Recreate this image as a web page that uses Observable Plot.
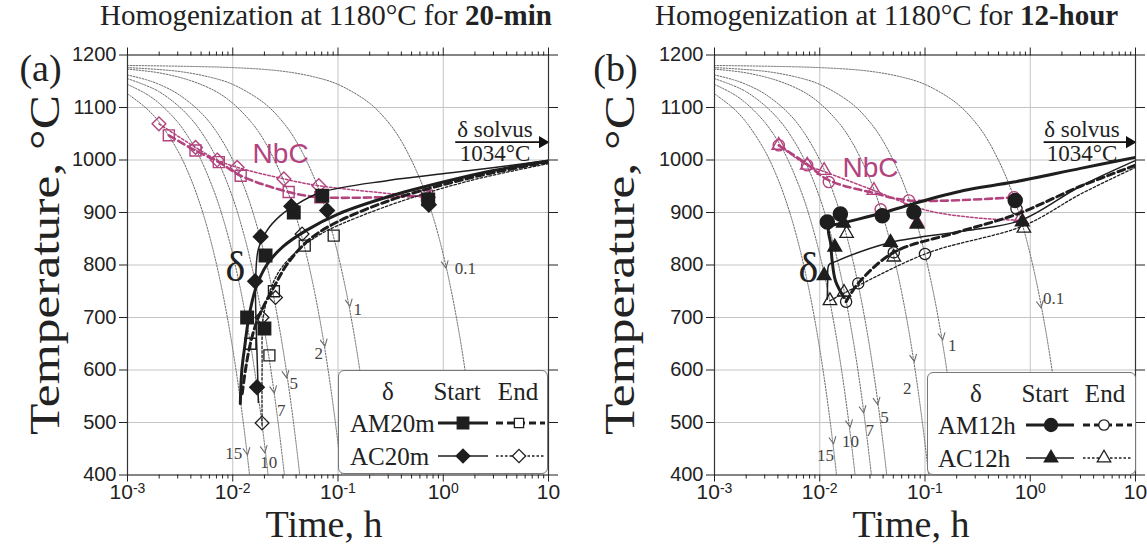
<!DOCTYPE html>
<html><head><meta charset="utf-8">
<script src="https://cdn.jsdelivr.net/npm/d3@7"></script>
<script src="https://cdn.jsdelivr.net/npm/@observablehq/plot@0.6"></script>
<style>
body{margin:0;background:#fff;}
#root{position:relative;width:1147px;height:545px;overflow:hidden;background:#fff;}
.title{position:absolute;top:-2px;font-family:"Liberation Serif","Times New Roman",serif;font-size:29px;line-height:34px;white-space:nowrap;color:#222;}
.panel{position:absolute;top:36px;}
.legend{position:absolute;background:#fff;border:1px solid #777;border-radius:6px;font-family:"Liberation Serif","Times New Roman",serif;font-size:25px;color:#222;}
.legend span{position:absolute;white-space:nowrap;line-height:1;}
.legend svg{position:absolute;left:0;top:0;}
</style></head><body><div id="root"></div><script>
// ---------- axes ----------
const majorX = [0.001, 0.01, 0.1, 1, 10];
const minorX = [0.002,0.003,0.004,0.005,0.006,0.007,0.008,0.009,
                0.02,0.03,0.04,0.05,0.06,0.07,0.08,0.09,
                0.2,0.3,0.4,0.5,0.6,0.7,0.8,0.9,
                2,3,4,5,6,7,8,9];
const yTicks = [400,500,600,700,800,900,1000,1100,1200];
const gridT = [500,600,700,800,900,1000,1100];

// ---------- cooling curves (t in h, T in °C) ----------
const coolRates = ["15","10","7","5","2","1","0.1"];
const cool15 = [[0.001,1126],[0.0015,1099],[0.002,1072],[0.003,1018],[0.004,964],[0.005,910],[0.006,856],[0.007,802],[0.008,748],[0.009,694],[0.010,640],[0.011,586],[0.012,532],[0.013,478],[0.014,424],[0.0147,386]];
const cool10 = [[0.001,1144],[0.0015,1126],[0.002,1108],[0.003,1072],[0.004,1036],[0.005,1000],[0.007,928],[0.009,856],[0.011,784],[0.013,712],[0.015,640],[0.017,568],[0.019,496],[0.021,424],[0.022,388]];
const cool7 = [[0.001,1155],[0.0015,1142],[0.002,1130],[0.003,1104],[0.004,1079],[0.005,1054],[0.007,1004],[0.010,928],[0.013,852],[0.016,777],[0.019,701],[0.022,626],[0.025,550],[0.028,474],[0.031,399],[0.032,374]];
const cool5 = [[0.001,1162],[0.0015,1153],[0.002,1144],[0.003,1126],[0.005,1090],[0.007,1054],[0.010,1000],[0.013,946],[0.016,892],[0.020,820],[0.024,748],[0.028,676],[0.032,604],[0.036,532],[0.040,460],[0.044,388]];
const cool2 = [[0.001,1173],[0.002,1166],[0.004,1151],[0.007,1130],[0.010,1108],[0.015,1072],[0.020,1036],[0.030,964],[0.040,892],[0.050,820],[0.060,748],[0.070,676],[0.080,604],[0.090,532],[0.100,460],[0.110,388]];
const cool1 = [[0.001,1176],[0.003,1169],[0.006,1158],[0.010,1144],[0.020,1108],[0.030,1072],[0.040,1036],[0.060,964],[0.080,892],[0.100,820],[0.120,748],[0.140,676],[0.160,604],[0.180,532],[0.200,460],[0.220,388]];
const cool01 = [[0.001,1180],[0.010,1176],[0.030,1169],[0.060,1158],[0.100,1144],[0.200,1108],[0.300,1072],[0.400,1036],[0.600,964],[0.800,892],[1.000,820],[1.200,748],[1.400,676],[1.600,604],[1.800,532],[2.000,460],[2.200,388]];
const coolCurves = [cool15, cool10, cool7, cool5, cool2, cool1, cool01];

// arrow heads on the cooling curves [rate, t, T]
const arrowsA = [["0.1",1.05,799],["1",0.1286,726],["2",0.0744,650],["5",0.0322,590],["7",0.0246,561],["10",0.0200,447],["15",0.0137,443]];
const arrowsB = [["0.1",1.256,723],["1",0.146,662],["2",0.0784,621],["5",0.0352,539],["7",0.0259,523],["10",0.0193,496],["15",0.0134,464]];
// rate labels [text, t, T]
const rateLabelsA = [["0.1",1.626,793],["1",0.154,715],["2",0.0657,631],["5",0.038,574],["7",0.0289,523],["10",0.022,424],["15",0.0102,440]];
const rateLabelsB = [["0.1",1.668,736],["1",0.182,647],["2",0.068,565],["5",0.0413,510],["7",0.0299,485],["10",0.0196,464],["15",0.01135,437]];

// ---------- panel (a): 20-min ----------
const nbcAmA = [[0.00247,1047],[0.00443,1018],[0.00737,996],[0.0119,970],[0.034,939],[0.0679,929],[0.70,932]];
const nbcAcA = [[0.00199,1069],[0.00443,1024],[0.00711,1000],[0.0110,986],[0.0306,964],[0.0657,951],[0.72,929]];
const amStartPtsA = [[0.0137,700],[0.0200,679],[0.0205,818],[0.038,900],[0.0709,932],[0.72,925]];
const acStartPtsA = [[0.0170,567],[0.0163,769],[0.0184,854],[0.036,912],[0.0789,904],[0.73,915]];
const amEndPtsA = [[0.0147,650],[0.0223,628],[0.0246,750],[0.0483,837],[0.091,856]];
const acEndPtsA = [[0.0190,499],[0.0190,700],[0.0255,738],[0.0456,859]];
const amStartLineA = [[0.0118,536],[0.0122,600],[0.0131,650],[0.0142,700],[0.0165,755],[0.021,800],[0.030,835],[0.050,866],[0.10,897],[0.30,930],[1,958],[3,980],[10,998]];
const acStartLineA = [[0.0175,538],[0.0172,600],[0.0166,700],[0.0165,770],[0.0175,830],[0.0212,866],[0.028,893],[0.038,912],[0.068,938],[0.30,961],[1.25,976],[10,999]];
const amEndLineA = [[0.0123,555],[0.0132,600],[0.0147,650],[0.0175,700],[0.0246,758],[0.033,802],[0.051,845],[0.09,878],[0.30,922],[1,953],[3,976],[10,996]];
const acEndLineA = [[0.0190,495],[0.0190,600],[0.0195,700],[0.0225,750],[0.028,790],[0.040,825],[0.070,860],[0.15,890],[0.5,928],[2,963],[10,993]];

// ---------- panel (b): 12-hour ----------
const nbcAmB = [[0.00408,1028],[0.0076,990],[0.0122,958],[0.0379,906],[0.0703,923],[0.70,929]];
const nbcAcB = [[0.00408,1028],[0.0076,990],[0.0110,980],[0.0327,942],[0.0843,880],[0.81,889]];
const nbcAmLineB = [[0.00408,1028],[0.0076,992],[0.012,962],[0.0327,937],[0.070,923],[0.70,929]];
const nbcAcLineB = [[0.00408,1028],[0.0076,990],[0.0110,978],[0.0327,942],[0.10,905],[0.30,890],[0.81,885]];
const amStartPtsB = [[0.0118,882],[0.0157,897],[0.0393,894],[0.0784,901],[0.72,923]];
const acStartPtsB = [[0.0110,780],[0.0139,834],[0.0168,880],[0.047,843],[0.084,878],[0.84,882]];
const amEndPtsB = [[0.0178,730],[0.0232,765],[0.0505,824],[0.100,821],[0.74,907]];
const acEndPtsB = [[0.0125,732],[0.0170,748],[0.0180,860],[0.0505,815],[0.87,870]];
const amStartLineB = [[0.0170,738],[0.0141,770],[0.0131,809],[0.0127,841],[0.0122,872],[0.0158,879],[0.0378,898],[0.078,917],[0.233,942],[0.695,958],[3.01,984],[10,1005]];
const acStartLineB = [[0.0118,735],[0.0119,770],[0.0122,800],[0.0139,806],[0.047,843],[0.26,866],[0.81,885],[3,950],[10,999]];
const amEndLineB = [[0.0178,730],[0.0232,765],[0.0505,824],[0.20,862],[0.75,897],[3,950],[10,990]];
const acEndLineB = [[0.0125,732],[0.10,821],[0.87,875],[3,935],[10,986]];

// ---------- annotations ----------
const solvusA = [{t1:1.3, t2:10, T:1034, tLabel:3.1}];
const solvusB = [{t1:1.34, t2:10, T:1034, tLabel:3.1}];
const nbcTextA = [{t:0.0285, T:1012}];
const nbcTextB = [{t:0.0304, T:984}];
const deltaTextA = [{t:0.0106, T:795}];
const deltaTextB = [{t:0.0078, T:793}];

// ---------- styling ----------
const SERIF = "'Liberation Serif','Times New Roman',serif";
const SANS = "'Liberation Sans',Arial,Helvetica,sans-serif";
const MAG = "#b2437f", INK = "#1e1e1e", GREY = "#6a6a6a";
const chevron = {draw(ctx, size){ const r = Math.sqrt(size)/2; ctx.moveTo(-r,-r*1.3); ctx.lineTo(0,r*0.7); ctx.lineTo(r,-r*1.3); }};

const X = d => d[0], Y = d => d[1];
const ln = (data, o) => Plot.line(data, {x:X, y:Y, curve:"catmull-rom", clip:true, ...o});
const dt = (data, o) => Plot.dot(data, {x:X, y:Y, ...o});

const ST = {
  amStart:{stroke:INK, strokeWidth:3},
  acStart:{stroke:INK, strokeWidth:1.5},
  amEnd:{stroke:INK, strokeWidth:3, strokeDasharray:"7,4"},
  acEnd:{stroke:INK, strokeWidth:1.3, strokeDasharray:"2.5,2"},
  nbcAm:{stroke:MAG, strokeWidth:2.6, strokeDasharray:"7,4"},
  nbcAc:{stroke:MAG, strokeWidth:1.5, strokeDasharray:"2.5,2"}
};

function makePanel(o) {
  const svg = Plot.plot({
    width: o.width, height: 509,
    marginLeft: o.ml, marginRight: o.mr, marginTop: 18.5, marginBottom: 70.5,
    x: {type: "log", domain: [0.001, 10]},
    y: {domain: [400, 1200]},
    style: {background: "transparent", fontFamily: SANS, color: "#222", overflow: "visible"},
    marks: [
      Plot.gridX(majorX.slice(1, -1), {stroke: "#c4c4c4", strokeOpacity: 1, strokeWidth: 1}),
      Plot.gridY(gridT, {stroke: "#c4c4c4", strokeOpacity: 1, strokeWidth: 1}),
      ...coolCurves.map(c => ln(c, {stroke: GREY, strokeWidth: 1, strokeDasharray: "1.6,1.4"})),
      Plot.dot(o.arrows, {x: d => d[1], y: d => d[2], symbol: chevron, r: 4, fill: "none", stroke: GREY, strokeWidth: 1.1, rotate: -10}),
      Plot.text(o.rateLabels, {x: d => d[1], y: d => d[2], text: d => d[0], fontFamily: SERIF, fontSize: 17, fill: "#444"}),
      // NbC
      ln(o.nbcAmLine, ST.nbcAm),
      ln(o.nbcAcLine, ST.nbcAc),
      dt(o.nbcAm, {symbol: o.symAm, r: o.rOpenAm, fill: "none", stroke: MAG, strokeWidth: 1.4}),
      dt(o.nbcAc, {symbol: o.symAc, r: o.rOpenAc, fill: "none", stroke: MAG, strokeWidth: 1.4}),
      // delta
      ln(o.amStartLine, ST.amStart),
      ln(o.acStartLine, ST.acStart),
      ln(o.amEndLine, ST.amEnd),
      ln(o.acEndLine, ST.acEnd),
      dt(o.amEndPts, {symbol: o.symAm, r: o.rOpenAm, fill: "none", stroke: INK, strokeWidth: 1.3}),
      dt(o.acEndPts, {symbol: o.symAc, r: o.rOpenAc, fill: "none", stroke: INK, strokeWidth: 1.3}),
      dt(o.amStartPts, {symbol: o.symAm, r: o.rFillAm, fill: INK, stroke: INK}),
      dt(o.acStartPts, {symbol: o.symAc, r: o.rFillAc, fill: INK, stroke: INK}),
      // solvus arrow
      Plot.link(o.solvus, {x1: d => d.t1, x2: d => d.t2, y1: d => d.T, y2: d => d.T, stroke: "#111", strokeWidth: 1.8}),
      Plot.dot(o.solvus, {x: d => d.t2, y: d => d.T, symbol: "triangle", r: 4.5, fill: "#111", rotate: 90, dx: -6}),
      Plot.text(o.solvus, {x: d => d.tLabel, y: d => d.T, text: () => "δ solvus", dy: -13, fontFamily: SERIF, fontSize: 23, fill: "#222"}),
      Plot.text(o.solvus, {x: d => d.tLabel, y: d => d.T, text: () => "1034°C", dy: 11, fontFamily: SERIF, fontSize: 23, fill: "#222"}),
      Plot.text(o.nbcText, {x: d => d.t, y: d => d.T, text: () => "NbC", fontFamily: SANS, fontSize: 28, fill: MAG}),
      Plot.text(o.deltaText, {x: d => d.t, y: d => d.T, text: () => "δ", fontFamily: SERIF, fontSize: 42, fill: "#222"}),
      Plot.frame({stroke: "#333", strokeWidth: 1.2}),
      // axes
      Plot.axisX(majorX, {anchor: "bottom", tickSize: 7, tickPadding: 2, fontSize: 21, fontFamily: SANS, label: null,
        tickFormat: d => d === 10 ? "10" : "10^" + Math.round(Math.log10(d))}),
      Plot.axisX(minorX, {anchor: "bottom", tickSize: 4, tickFormat: () => "", label: null}),
      Plot.axisX(majorX, {anchor: "top", tickSize: 8, tickFormat: () => "", label: null}),
      Plot.axisX(minorX, {anchor: "top", tickSize: 4, tickFormat: () => "", label: null}),
      Plot.axisY(yTicks, {anchor: "left", tickSize: 8, tickPadding: 3, fontSize: 20, fontFamily: SANS, label: null, tickFormat: d => String(d)}),
      Plot.axisY(yTicks, {anchor: "right", tickSize: 9, tickFormat: () => "", label: null}),
      // titles
      Plot.text(["Temperature, °C"], {frameAnchor: "left", dx: o.yTitleDx, rotate: -90, textAnchor: "middle", lineAnchor: "middle", fontFamily: SERIF, fontSize: 42, fill: "#222"}),
      Plot.text(["Time, h"], {frameAnchor: "bottom", dy: 50, dx: -14, textAnchor: "middle", lineAnchor: "middle", fontFamily: SERIF, fontSize: 38, fill: "#222"}),
      Plot.text([o.letter], {frameAnchor: "top-left", dx: o.letterDx, dy: 14, textAnchor: "middle", lineAnchor: "middle", fontFamily: SERIF, fontSize: 38, fill: "#222"})
    ]
  });
  svg.querySelectorAll("text").forEach(t => {
    const s = t.textContent;
    const m = /^10\^(-?\d+)$/.exec(s);
    if (m) {
      t.textContent = "";
      const a = document.createElementNS("http://www.w3.org/2000/svg", "tspan");
      a.textContent = "10";
      const b = document.createElementNS("http://www.w3.org/2000/svg", "tspan");
      b.textContent = m[1]; b.setAttribute("dy", "-0.45em"); b.setAttribute("font-size", "14");
      t.append(a, b);
    } else if (s === "Temperature, °C") {
      t.setAttribute("textLength", "340");
      t.setAttribute("lengthAdjust", "spacingAndGlyphs");
    }
  });
  return svg;
}

function sym(type, r, x, y, fill, stroke) {
  const p = d3.symbol(type, Math.PI * r * r)();
  return `<path d="${p}" transform="translate(${x},${y})" fill="${fill}" stroke="${stroke}" stroke-width="1.3"/>`;
}
function legend(o) {
  const div = document.createElement("div");
  div.className = "legend";
  Object.assign(div.style, {left: o.left + "px", top: o.top + "px", width: o.w + "px", height: o.h + "px"});
  const ln2 = (x1, x2, y, s) => `<line x1="${x1}" x2="${x2}" y1="${y}" y2="${y}" stroke="${INK}" stroke-width="${s.strokeWidth}" ${s.strokeDasharray ? `stroke-dasharray="${s.strokeDasharray}"` : ""}/>`;
  const r1 = 52, r2 = 85;
  div.innerHTML = `
    <span style="left:${o.cD}px;top:20px;transform:translate(-50%,-50%)">δ</span>
    <span style="left:${o.cS}px;top:20px;transform:translate(-50%,-50%)">Start</span>
    <span style="left:${o.cE}px;top:20px;transform:translate(-50%,-50%)">End</span>
    <span style="left:${o.lx}px;top:${r1}px;transform:translate(0,-50%)">${o.names[0]}</span>
    <span style="left:${o.lx}px;top:${r2}px;transform:translate(0,-50%)">${o.names[1]}</span>
    <svg width="${o.w}" height="${o.h}">
      ${ln2(o.s1, o.s2, r1, ST.amStart)}${sym(o.symAm, o.rFillAm, o.sm, r1, INK, INK)}
      ${ln2(o.e1, o.e2, r1, ST.amEnd)}${sym(o.symAm, o.rOpenAm, o.em, r1, "#fff", INK)}
      ${ln2(o.s1, o.s2, r2, ST.acStart)}${sym(o.symAc, o.rFillAc, o.sm, r2, INK, INK)}
      ${ln2(o.e1, o.e2, r2, ST.acEnd)}${sym(o.symAc, o.rOpenAc, o.em, r2, "#fff", INK)}
    </svg>`;
  return div;
}

const root = document.getElementById("root");
const tA = document.createElement("div"); tA.className = "title"; tA.style.left = "100px";
tA.innerHTML = "Homogenization at 1180°C for <b>20-min</b>";
const tB = document.createElement("div"); tB.className = "title"; tB.style.left = "655px";
tB.innerHTML = "Homogenization at 1180°C for <b>12-hour</b>";

const pA = document.createElement("div"); pA.className = "panel"; pA.style.left = "0px";
pA.append(makePanel({
  width: 573, ml: 127, mr: 25, letter: "(a)", letterDx: -87, yTitleDx: -82,
  arrows: arrowsA, rateLabels: rateLabelsA,
  nbcAm: nbcAmA, nbcAc: nbcAcA, nbcAmLine: nbcAmA, nbcAcLine: nbcAcA,
  amStartPts: amStartPtsA, acStartPts: acStartPtsA, amEndPts: amEndPtsA, acEndPts: acEndPtsA,
  amStartLine: amStartLineA, acStartLine: acStartLineA, amEndLine: amEndLineA, acEndLine: acEndLineA,
  symAm: "square", symAc: "diamond2", rFillAm: 7, rOpenAm: 6.2, rFillAc: 6.5, rOpenAc: 6.2,
  solvus: solvusA, nbcText: nbcTextA, deltaText: deltaTextA
}));
const pB = document.createElement("div"); pB.className = "panel"; pB.style.left = "573px";
pB.append(makePanel({
  width: 574, ml: 141, mr: 12, letter: "(b)", letterDx: -99, yTitleDx: -94,
  arrows: arrowsB, rateLabels: rateLabelsB,
  nbcAm: nbcAmB, nbcAc: nbcAcB, nbcAmLine: nbcAmLineB, nbcAcLine: nbcAcLineB,
  amStartPts: amStartPtsB, acStartPts: acStartPtsB, amEndPts: amEndPtsB, acEndPts: acEndPtsB,
  amStartLine: amStartLineB, acStartLine: acStartLineB, amEndLine: amEndLineB, acEndLine: acEndLineB,
  symAm: "circle", symAc: "triangle", rFillAm: 7, rOpenAm: 5.6, rFillAc: 5, rOpenAc: 5,
  solvus: solvusB, nbcText: nbcTextB, deltaText: deltaTextB
}));

const lA = legend({left: 338, top: 370, w: 208, h: 102, cD: 49, cS: 118, cE: 179, lx: 11,
  names: ["AM20m", "AC20m"], s1: 99, s2: 149, sm: 124, e1: 157, e2: 206, em: 180,
  symAm: d3.symbolSquare, symAc: d3.symbolDiamond2, rFillAm: 6.5, rOpenAm: 5.2, rFillAc: 6.2, rOpenAc: 6});
const lB = legend({left: 927, top: 372, w: 207, h: 101, cD: 48, cS: 117, cE: 177, lx: 10,
  names: ["AM12h", "AC12h"], s1: 98, s2: 146, sm: 123, e1: 155, e2: 204, em: 176,
  symAm: d3.symbolCircle, symAc: d3.symbolTriangle, rFillAm: 6.5, rOpenAm: 5.2, rFillAc: 5, rOpenAc: 5});

root.append(pA, pB, tA, tB, lA, lB);
</script></body></html>
